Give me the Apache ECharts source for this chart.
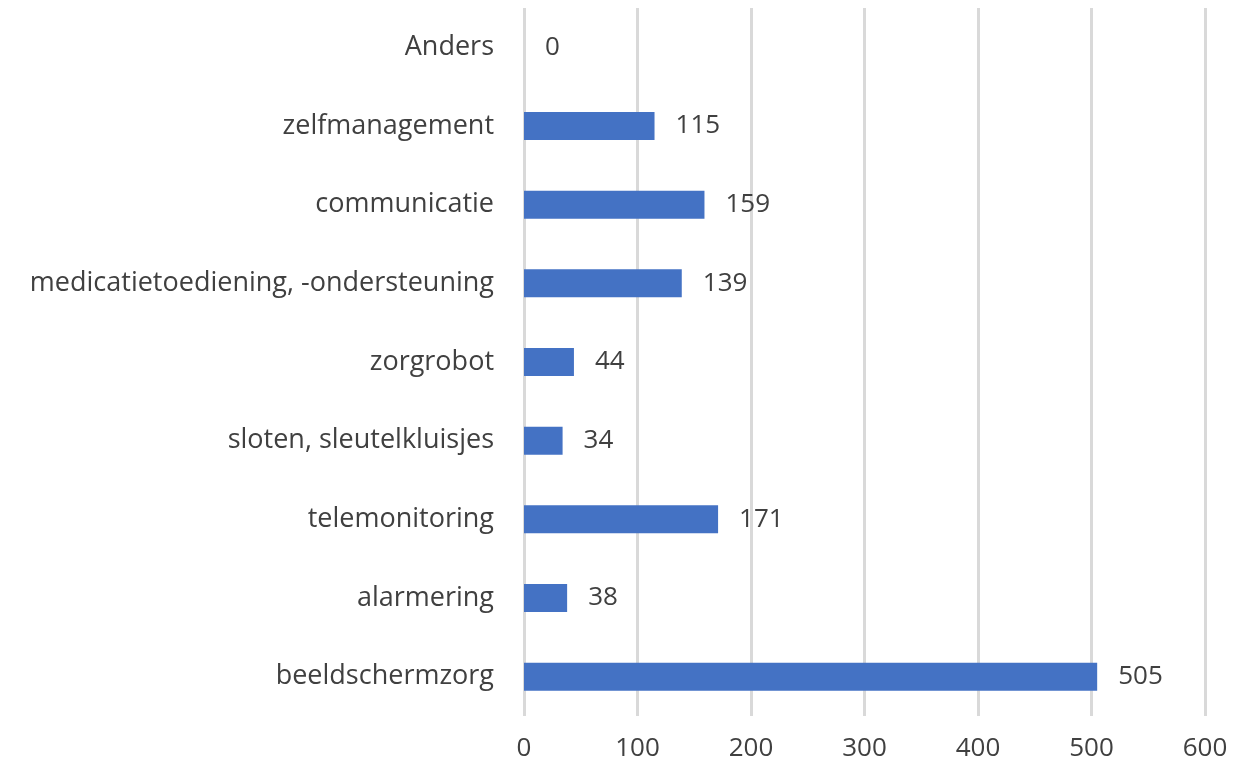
<!DOCTYPE html>
<html>
<head>
<meta charset="utf-8">
<script src="https://cdn.jsdelivr.net/npm/echarts@6/dist/echarts.min.js"></script>
<style>
html, body { margin: 0; padding: 0; background: #fff; }
#chart { width: 1234px; height: 774px; }
</style>
</head>
<body>
<div id="chart"></div>
<script>
// categories bottom to top
var categories = ['beeldschermzorg', 'alarmering', 'telemonitoring', 'sloten, sleutelkluisjes', 'zorgrobot',
    'medicatietoediening, -ondersteuning', 'communicatie', 'zelfmanagement', 'Anders'];
var values = [505, 38, 171, 34, 44, 139, 159, 115, 0];
var xTicks = [0, 100, 200, 300, 400, 500, 600];

var font = '"Open Sans", "Noto Sans", sans-serif';
var myChart = echarts.init(document.getElementById('chart'));
var option = {
    animation: false,
    grid: { left: 524, right: 29, top: 8, bottom: 58 },
    xAxis: {
        type: 'value',
        min: xTicks[0],
        max: xTicks[xTicks.length - 1],
        interval: 100,
        axisLine: { show: false },
        axisTick: { show: false },
        axisLabel: { color: '#404040', fontSize: 26, fontFamily: font, margin: 20 },
        splitLine: { lineStyle: { color: '#d9d9d9', width: 3 } }
    },
    yAxis: {
        type: 'category',
        data: categories,
        axisLine: { show: false },
        axisTick: { show: false },
        axisLabel: { color: '#404040', fontSize: 27, fontFamily: font, margin: 30 }
    },
    series: [{
        type: 'bar',
        data: values,
        barWidth: 28,
        itemStyle: { color: '#4472c4' },
        label: {
            show: true,
            position: 'right',
            distance: 21,
            color: '#404040',
            fontSize: 26,
            fontFamily: font
        }
    }]
};
myChart.setOption(option);
</script>
</body>
</html>
